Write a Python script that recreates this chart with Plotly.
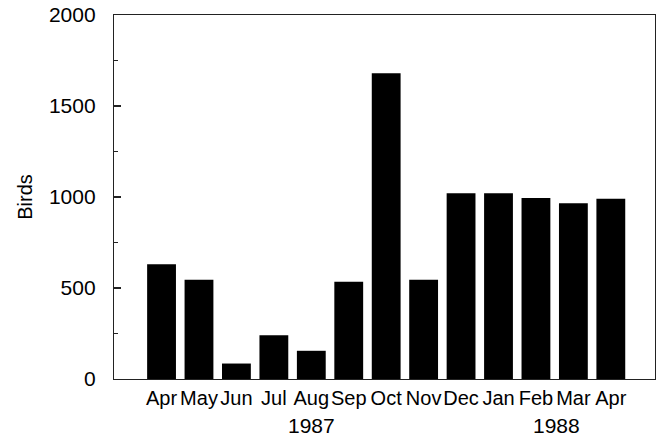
import plotly.graph_objects as go

months = ["Apr", "May", "Jun", "Jul", "Aug", "Sep", "Oct", "Nov", "Dec", "Jan", "Feb", "Mar", "Apr"]
birds = [630, 545, 85, 240, 155, 535, 1680, 545, 1020, 1020, 995, 965, 990]
year_labels = ["1987", "1988"]
year_positions = [4.0, 10.55]
y_ticks = [0, 500, 1000, 1500, 2000]

x_idx = list(range(len(months)))

FONT = "Liberation Sans, Arial, Helvetica, sans-serif"

fig = go.Figure()
fig.add_trace(go.Bar(
    x=x_idx, y=birds, width=0.77,
    marker=dict(color="black", line=dict(width=0)),
    showlegend=False,
))

for lbl, pos in zip(year_labels, year_positions):
    fig.add_annotation(
        x=pos, y=-0.129, xref="x", yref="paper", text=lbl, showarrow=False,
        font=dict(family=FONT, size=21, color="black"),
        xanchor="center", yanchor="middle",
    )

fig.update_layout(
    width=665, height=438,
    margin=dict(l=114, r=10, t=15, b=59),
    paper_bgcolor="white", plot_bgcolor="white",
    font=dict(family=FONT, color="black"),
)

fig.update_xaxes(
    range=[-1.27, 13.18], automargin=False,
    tickmode="array", tickvals=x_idx, ticktext=months,
    tickangle=0,
    tickfont=dict(family=FONT, size=20, color="black"),
    ticks="", ticklabelstandoff=1, showgrid=False, zeroline=False,
    showline=True, linecolor="#222", linewidth=1.2, mirror=True,
)

fig.update_yaxes(
    range=[0, 2000], automargin=False,
    tickmode="array", tickvals=y_ticks, ticktext=[str(v) for v in y_ticks],
    tickfont=dict(family=FONT, size=21, color="black"),
    ticklabeloverflow="allow",
    ticks="inside", ticklen=7, tickwidth=1.2, tickcolor="#222",
    minor=dict(ticks="inside", ticklen=4, tickwidth=1, tickcolor="#222", dtick=250, showgrid=False),
    ticklabelstandoff=13,
    showgrid=False, zeroline=False,
    showline=True, linecolor="#222", linewidth=1.2, mirror=True,
    title=dict(text="Birds", font=dict(family=FONT, size=20, color="black"), standoff=10),
)

# remove the browser's default 8px body margin so the figure fills the window
fig.write_html(
    "out.html",
    config={"displayModeBar": False, "staticPlot": True},
    post_script="document.body.style.margin='0';document.body.style.overflow='hidden';",
)
